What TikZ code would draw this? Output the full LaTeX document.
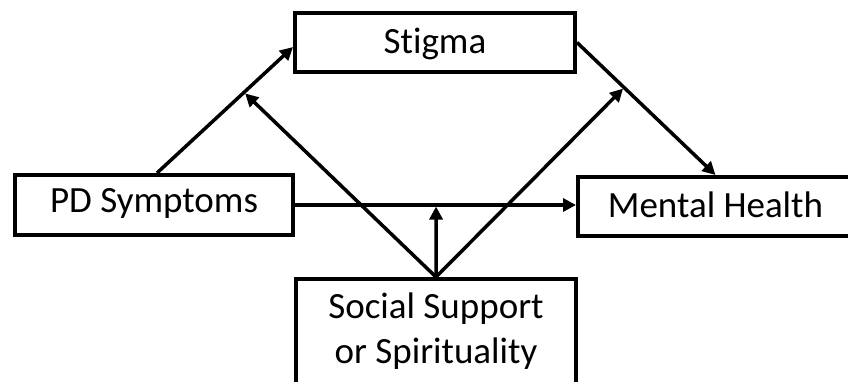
\documentclass[tikz,border=0pt]{standalone}
\usepackage{fontspec}
\setmainfont{Carlito}[Ligatures={NoCommon}]
\usetikzlibrary{arrows.meta}
\begin{document}
\begin{tikzpicture}[x=1pt,y=-1pt,
  box/.style={draw, line width=4pt, inner sep=0pt, fill=white,
    font=\fontsize{37}{45}\selectfont, text height=24pt, text depth=2pt},
  lbl/.style={font=\fontsize{37}{45}\selectfont, align=center, inner sep=0pt},
  arr/.style={line width=3.5pt, -{Triangle[length=13pt,width=13pt]}}]
\useasboundingbox (0,0) rectangle (848,381);
\clip (0,0) rectangle (848,381);
\node[box, minimum width=280pt, minimum height=59pt] (st) at (435,42.5) {Stigma};
\node[box, minimum width=278pt, minimum height=60pt, text depth=9pt] (pd) at (154,205) {PD Symptoms};
\node[box, minimum width=275pt, minimum height=59pt] (mh) at (715.5,206.5) {Mental Health};
\node[box, minimum width=280pt, minimum height=120pt] (ss) at (436,339) {};
\node[lbl, anchor=base] (sstext) at (436,363) {Social Support\\or Spirituality};
\draw[arr] ([xshift=3pt]pd.north) -- coordinate[pos=0.64] (m1) ([yshift=-4.5pt]st.west);
\draw[arr] (st.east) -- coordinate[pos=0.34] (m2) (mh.north);
\draw[arr] (pd.east) -- coordinate[pos=0.502] (m3) (pd.east -| mh.west);
\draw[arr, shorten >=1.5pt] (ss.north) -- (m1);
\draw[arr, shorten >=1.5pt] (ss.north) -- (m2);
\draw[arr, shorten >=1.5pt] (ss.north) -- (m3);
\end{tikzpicture}
\end{document}
